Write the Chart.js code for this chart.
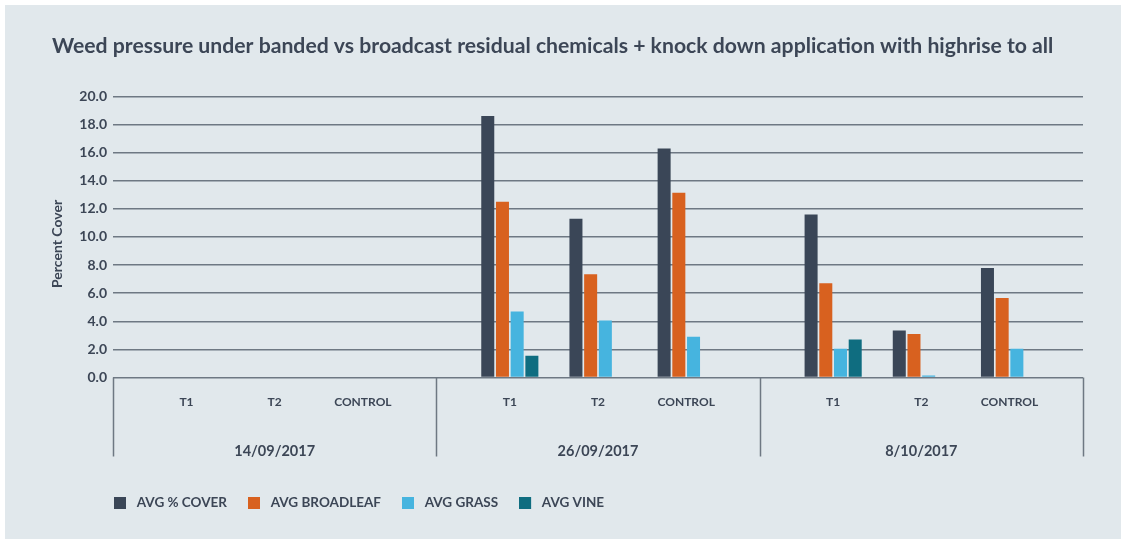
<!DOCTYPE html>
<html>
<head>
<meta charset="utf-8">
<script src="https://cdn.jsdelivr.net/npm/chart.js@4/dist/chart.umd.min.js"></script>
<style>
  html, body { margin: 0; padding: 0; background: #ffffff; width: 1121px; height: 539px; overflow: hidden; }
  #frame { position: absolute; left: 5px; top: 5px; width: 1116px; height: 534px; background: #e1e8ec; }
  #chart { display: block; }
</style>
</head>
<body>
<div id="frame"><canvas id="chart" width="1116" height="534"></canvas></div>
<script>
// Sampling dates and treatments (three treatments per date)
const dates = ['14/09/2017', '26/09/2017', '8/10/2017'];
const treatments = ['T1', 'T2', 'CONTROL'];

// Percent cover per date/treatment, in date order then treatment order
const avgCover     = [null, null, null, 18.6, 11.3, 16.3, 11.6, 3.35, 7.8];
const avgBroadleaf = [null, null, null, 12.5, 7.35, 13.15, 6.7, 3.1, 5.65];
const avgGrass     = [null, null, null, 4.7, 4.05, 2.9, 2.05, 0.15, 2.05];
const avgVine      = [null, null, null, 1.55, 0, 0, 2.7, 0, 0];

const yTicks = [0, 2, 4, 6, 8, 10, 12, 14, 16, 18, 20];

// Each date block spans 11 units on the x scale: one unit of margin,
// then three 3-unit treatment slots, then one unit of margin.
const BLOCK = 11;
const slotX = (d, t) => d * BLOCK + 2.5 + 3 * t;
const centres = [];
dates.forEach((d, di) => treatments.forEach((t, ti) => centres.push(slotX(di, ti))));

const toPoints = arr => arr.map((v, i) => ({ x: centres[i], y: v }));

const TEXT = '#3c4656';
const GRID = '#6e7883';
const FONT = 'Lato, "Open Sans", sans-serif';

// Legend swatch: 12px square on a wider transparent strip, so the label sits further right
const SWATCH_W = 16;
function swatch(color) {
  const c = document.createElement('canvas');
  c.width = SWATCH_W; c.height = 12;
  const g = c.getContext('2d');
  g.fillStyle = color;
  g.fillRect(0, 0, 12, 12);
  return c;
}

// Vertical dividers between date blocks, running below the plot
const dividers = {
  id: 'dividers',
  afterDraw(chart) {
    const x = chart.scales.x;
    const ctx = chart.ctx;
    const top = chart.chartArea.bottom;
    const bottom = chart.scales.x2.top + 29;
    ctx.save();
    ctx.strokeStyle = GRID;
    ctx.lineWidth = 1.5;
    for (let g = 0; g <= dates.length; g++) {
      const px = Math.round(x.getPixelForValue(g * BLOCK)) + 0.5;
      ctx.beginPath();
      ctx.moveTo(px, top);
      ctx.lineTo(px, bottom);
      ctx.stroke();
    }
    ctx.restore();
  }
};

// Pull the legend so its first swatch lines up with the plot's left edge,
// and nudge the y-axis title a little lower than the plot's midpoint
const layoutTweaks = {
  id: 'layoutTweaks',
  afterLayout(chart) {
    const lg = chart.legend;
    const w = lg.right - lg.left;
    lg.left = chart.chartArea.left - 20;
    lg.right = lg.left + w;

    const ys = chart.scales.y;
    if (!ys._titleShifted) {
      const orig = ys.drawTitle;
      ys.drawTitle = function () {
        this.ctx.save();
        this.ctx.translate(0, 7);
        orig.call(this);
        this.ctx.restore();
      };
      ys._titleShifted = true;
    }
  }
};

new Chart(document.getElementById('chart'), {
  type: 'bar',
  data: {
    datasets: [
      { label: 'AVG % COVER',     data: toPoints(avgCover),     backgroundColor: '#3a4657' },
      { label: 'AVG BROADLEAF',   data: toPoints(avgBroadleaf), backgroundColor: '#d8611f' },
      { label: 'AVG GRASS',       data: toPoints(avgGrass),     backgroundColor: '#46b4df' },
      { label: 'AVG VINE',        data: toPoints(avgVine),      backgroundColor: '#0f6d80' }
    ]
  },
  options: {
    responsive: false,
    animation: false,
    events: [],
    barPercentage: 0.885,
    categoryPercentage: 0.667,
    layout: { padding: { left: 47, right: 38, top: 0, bottom: 19.5 } },
    plugins: {
      tooltip: { enabled: false },
      title: {
        display: true,
        text: 'Weed pressure under banded vs broadcast residual chemicals + knock down application with highrise to all',
        align: 'start',
        color: TEXT,
        font: { family: FONT, size: 21.2, weight: 'bold' },
        padding: { top: 28, bottom: 38 }
      },
      legend: {
        position: 'bottom',
        align: 'start',
        labels: {
          color: TEXT,
          font: { family: FONT, size: 13.5, weight: 'bold' },
          usePointStyle: true,
          pointStyleWidth: SWATCH_W,
          boxHeight: 12,
          padding: 21,
          generateLabels(chart) {
            const items = Chart.defaults.plugins.legend.labels.generateLabels(chart);
            items.forEach(it => { it.pointStyle = swatch(it.fillStyle); });
            return items;
          }
        }
      }
    },
    scales: {
      x: {
        type: 'linear',
        position: 'bottom',
        min: 0,
        max: dates.length * BLOCK,
        offset: false,
        grid: { display: false, drawTicks: false },
        border: { display: false },
        afterBuildTicks(scale) { scale.ticks = centres.map(v => ({ value: v })); },
        afterFit(scale) { scale.height = 50; },
        ticks: {
          autoSkip: false,
          maxRotation: 0,
          padding: 17,
          color: TEXT,
          font: { family: FONT, size: 12, weight: 'bold' },
          callback: v => treatments[centres.indexOf(v) % treatments.length]
        }
      },
      x2: {
        type: 'linear',
        position: 'bottom',
        min: 0,
        max: dates.length * BLOCK,
        offset: false,
        grid: { display: false, drawTicks: false },
        border: { display: false },
        afterBuildTicks(scale) { scale.ticks = dates.map((d, i) => ({ value: i * BLOCK + BLOCK / 2 })); },
        afterFit(scale) { scale.height = 47.5; },
        ticks: {
          autoSkip: false,
          maxRotation: 0,
          padding: 15,
          color: TEXT,
          font: { family: FONT, size: 14.5, weight: 'bold' },
          callback: v => dates[Math.floor(v / BLOCK)]
        }
      },
      y: {
        min: 0,
        max: 20,
        afterBuildTicks(scale) { scale.ticks = yTicks.map(v => ({ value: v })); },
        afterFit(scale) { scale.width = 61; },
        grid: { color: GRID, lineWidth: 1.5, drawTicks: false },
        border: { display: false },
        ticks: {
          padding: 6,
          color: TEXT,
          font: { family: FONT, size: 14, weight: 'bold' },
          callback: v => v.toFixed(1)
        },
        title: {
          display: true,
          text: 'Percent Cover',
          color: TEXT,
          font: { family: FONT, size: 14, weight: 'bold' },
          padding: { top: -3, bottom: 0 }
        }
      }
    }
  },
  plugins: [dividers, layoutTweaks]
});
</script>
</body>
</html>
